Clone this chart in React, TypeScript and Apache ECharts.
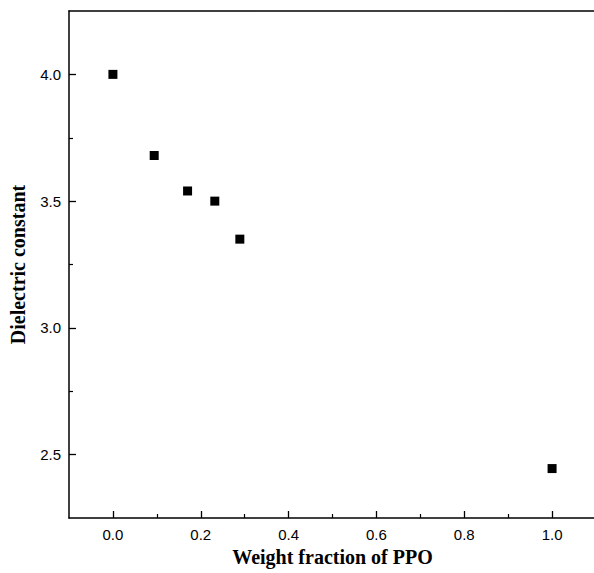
import React, { useEffect, useRef } from "react";
import * as echarts from "echarts";

// PPO weight fraction vs dielectric constant
const weightFraction = [0.0, 0.094, 0.17, 0.232, 0.289, 1.0];
const dielectricConstant = [4.0, 3.68, 3.54, 3.5, 3.35, 2.445];

const xMajorTicks = [0.0, 0.2, 0.4, 0.6, 0.8, 1.0];
const xMinorTicks = [0.1, 0.3, 0.5, 0.7, 0.9];
const yMajorTicks = [2.5, 3.0, 3.5, 4.0];
const yMinorTicks = [2.75, 3.25, 3.75];

const X_MIN = -0.1;
const X_MAX = 1.1;
const Y_MIN = 2.25;
const Y_MAX = 4.25;

const titleStyle = {
  fontFamily: "Liberation Serif",
  fontWeight: "bold",
  fontSize: 20,
  color: "#000",
};
const tickLabelStyle = {
  fontFamily: "Liberation Sans",
  fontSize: 15,
  color: "#000",
};
const axisLineStyle = { color: "#000", width: 1.5 };

export default function App() {
  const ref = useRef<HTMLDivElement>(null);

  useEffect(() => {
    if (!ref.current) return;
    const chart = echarts.init(ref.current, null, { renderer: "svg" });
    const points = weightFraction.map((x, i) => [x, dielectricConstant[i]]);
    chart.setOption({
      animation: false,
      backgroundColor: "#ffffff",
      grid: {
        left: 68,
        top: 11,
        width: 528,
        height: 507,
        show: false,
        containLabel: false,
      },
      xAxis: [
        {
          type: "value",
          position: "bottom",
          min: X_MIN,
          max: X_MAX,
          name: "Weight fraction of PPO",
          nameLocation: "middle",
          nameGap: 27,
          nameTextStyle: titleStyle,
          axisLine: { show: true, onZero: false, lineStyle: axisLineStyle },
          axisTick: {
            show: true,
            inside: true,
            length: 7,
            customValues: xMajorTicks,
            lineStyle: { color: "#000", width: 1.3 },
          },
          axisLabel: {
            customValues: xMajorTicks,
            formatter: (v: number) => v.toFixed(1),
            margin: 9,
            ...tickLabelStyle,
          },
          splitLine: { show: false },
        },
        {
          type: "value",
          position: "bottom",
          offset: 0,
          min: X_MIN,
          max: X_MAX,
          axisLine: { show: false, onZero: false },
          axisTick: {
            show: true,
            inside: true,
            length: 4,
            customValues: xMinorTicks,
            lineStyle: { color: "#000", width: 1.2 },
          },
          axisLabel: { show: false },
          splitLine: { show: false },
        },
        {
          // top frame line
          type: "value",
          position: "top",
          offset: 0,
          min: X_MIN,
          max: X_MAX,
          axisLine: { show: true, onZero: false, lineStyle: axisLineStyle },
          axisTick: { show: false },
          axisLabel: { show: false },
          splitLine: { show: false },
        },
      ],
      yAxis: [
        {
          type: "value",
          position: "left",
          min: Y_MIN,
          max: Y_MAX,
          name: "Dielectric constant",
          nameLocation: "middle",
          nameGap: 41,
          nameTextStyle: titleStyle,
          axisLine: { show: true, onZero: false, lineStyle: axisLineStyle },
          axisTick: {
            show: true,
            inside: true,
            length: 7,
            customValues: yMajorTicks,
            lineStyle: { color: "#000", width: 1.3 },
          },
          axisLabel: {
            customValues: yMajorTicks,
            formatter: (v: number) => v.toFixed(1),
            margin: 8,
            ...tickLabelStyle,
          },
          splitLine: { show: false },
        },
        {
          type: "value",
          position: "left",
          offset: 0,
          min: Y_MIN,
          max: Y_MAX,
          axisLine: { show: false, onZero: false },
          axisTick: {
            show: true,
            inside: true,
            length: 4,
            customValues: yMinorTicks,
            lineStyle: { color: "#000", width: 1.2 },
          },
          axisLabel: { show: false },
          splitLine: { show: false },
        },
      ],
      series: [
        {
          type: "scatter",
          xAxisIndex: 0,
          yAxisIndex: 0,
          data: points,
          symbol: "rect",
          symbolSize: 9,
          itemStyle: { color: "#000", opacity: 1 },
        },
      ],
    });
    return () => chart.dispose();
  }, []);

  return (
    <div
      ref={ref}
      style={{ position: "fixed", left: 0, top: 0, width: 600, height: 573 }}
    />
  );
}
